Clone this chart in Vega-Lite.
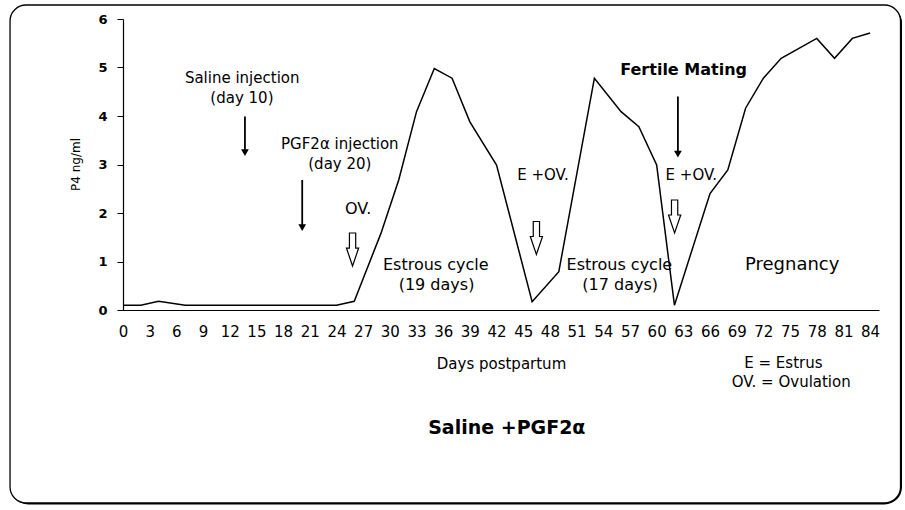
{
  "$schema": "https://vega.github.io/schema/vega-lite/v6.json",
  "width": 756,
  "height": 291,
  "autosize": {"type": "none"},
  "padding": {"left": 123, "top": 19, "right": 26, "bottom": 200},
  "background": "white",
  "config": {
    "view": {"stroke": null},
    "font": "DejaVu Sans"
  },
  "datasets": {
    "p4": [
      {"day": 0, "val": 0.1}, {"day": 2, "val": 0.1}, {"day": 4, "val": 0.18},
      {"day": 7, "val": 0.1}, {"day": 24, "val": 0.1}, {"day": 26, "val": 0.18},
      {"day": 29, "val": 1.58}, {"day": 31, "val": 2.68}, {"day": 33, "val": 4.09},
      {"day": 35, "val": 4.98}, {"day": 37, "val": 4.78}, {"day": 39, "val": 3.88},
      {"day": 42, "val": 2.99}, {"day": 46, "val": 0.17}, {"day": 49, "val": 0.79},
      {"day": 53, "val": 4.78}, {"day": 56, "val": 4.09}, {"day": 58, "val": 3.78},
      {"day": 60, "val": 2.99}, {"day": 62, "val": 0.1}, {"day": 66, "val": 2.4},
      {"day": 68, "val": 2.89}, {"day": 70, "val": 4.16}, {"day": 72, "val": 4.78},
      {"day": 74, "val": 5.19}, {"day": 78, "val": 5.6}, {"day": 80, "val": 5.19},
      {"day": 82, "val": 5.6}, {"day": 84, "val": 5.71}
    ],
    "notes15": [
      {"label": "Saline injection", "day": 13.4, "val": 4.78},
      {"label": "(day 10)", "day": 13.37, "val": 4.38},
      {"label": "PGF2α injection", "day": 24.38, "val": 3.42},
      {"label": "(day 20)", "day": 24.38, "val": 3.01},
      {"label": "E +OV.", "day": 47.22, "val": 2.78},
      {"label": "E +OV.", "day": 63.9, "val": 2.78},
      {"label": "E = Estrus", "day": 74.25, "val": -1.1},
      {"label": "OV. = Ovulation", "day": 75.13, "val": -1.49}
    ],
    "notes16": [
      {"label": "OV.", "day": 26.44, "val": 2.08},
      {"label": "Estrous cycle", "day": 35.17, "val": 0.93},
      {"label": "(19 days)", "day": 35.25, "val": 0.52},
      {"label": "Estrous cycle", "day": 55.81, "val": 0.93},
      {"label": "(17 days)", "day": 55.9, "val": 0.52}
    ],
    "pregnancy": [{"label": "Pregnancy", "day": 75.24, "val": 0.93}],
    "mating": [{"label": "Fertile Mating", "day": 63.03, "val": 4.95}],
    "caption": [{"label": "Saline +PGF2α", "day": 43.15, "val": -2.44}],
    "solid": [
      {"day": 13.71, "val": 3.99, "val2": 3.245},
      {"day": 20.15, "val": 2.68, "val2": 1.7},
      {"day": 62.39, "val": 4.4, "val2": 3.216}
    ],
    "heads": [
      {"day": 13.71, "val": 3.245},
      {"day": 20.15, "val": 1.7},
      {"day": 62.39, "val": 3.216}
    ],
    "hollow": [
      {"day": 25.81, "val": 1.247},
      {"day": 46.48, "val": 1.485},
      {"day": 62.02, "val": 1.928}
    ],
    "frame": [{"day": -12.7, "day2": 87.42, "val": 6.289, "val2": -3.979}]
  },
  "encoding": {
    "x": {
      "field": "day", "type": "quantitative",
      "scale": {"domain": [0, 85], "nice": false, "zero": false},
      "axis": {
        "zindex": 2,
        "grid": false,
        "values": [0, 3, 6, 9, 12, 15, 18, 21, 24, 27, 30, 33, 36, 39, 42, 45, 48, 51, 54, 57, 60, 63, 66, 69, 72, 75, 78, 81, 84],
        "domainColor": "black",
        "domainWidth": 1.2,
        "ticks": false,
        "labelPadding": 14,
        "labelFont": "DejaVu Sans",
        "labelFontSize": 15,
        "labelColor": "black",
        "labelFlush": false,
        "labelOverlap": false,
        "labelBound": false,
        "title": "Days postpartum",
        "titleFont": "DejaVu Sans",
        "titleFontSize": 15,
        "titleFontWeight": "normal",
        "titleColor": "black",
        "titleBaseline": "middle",
        "titleY": 53
      }
    },
    "y": {
      "field": "val", "type": "quantitative",
      "scale": {"domain": [0, 6], "nice": false},
      "axis": {
        "zindex": 2,
        "grid": false,
        "values": [0, 1, 2, 3, 4, 5, 6],
        "domainColor": "black",
        "domainWidth": 1.2,
        "tickColor": "black",
        "tickSize": 6,
        "labelPadding": 10,
        "labelFont": "DejaVu Sans",
        "labelFontSize": 13,
        "labelFontWeight": "bold",
        "labelColor": "black",
        "labelOverlap": false,
        "labelFlush": false,
        "title": "P4 ng/ml",
        "titleFont": "DejaVu Sans",
        "titleFontSize": 12,
        "titleFontWeight": "normal",
        "titleColor": "black",
        "titleAngle": -90,
        "titleBaseline": "bottom",
        "titleAlign": "center",
        "titleX": -41,
        "titleY": 145
      }
    }
  },
  "layer": [
    {
      "data": {"name": "frame"},
      "mark": {"type": "rect", "filled": false, "stroke": "black", "strokeWidth": 3, "cornerRadius": 16, "xOffset": 2.2, "yOffset": 2.2},
      "encoding": {"x2": {"field": "day2"}, "y2": {"field": "val2"}}
    },
    {
      "data": {"name": "frame"},
      "mark": {"type": "rect", "fill": "white", "stroke": "black", "strokeWidth": 1.3, "cornerRadius": 16},
      "encoding": {"x2": {"field": "day2"}, "y2": {"field": "val2"}}
    },
    {
      "data": {"name": "p4"},
      "mark": {"type": "line", "color": "black", "strokeWidth": 1.5},
      "encoding": {}
    },
    {
      "data": {"name": "solid"},
      "mark": {"type": "rule", "color": "black", "strokeWidth": 1.8},
      "encoding": {"y2": {"field": "val2"}}
    },
    {
      "data": {"name": "heads"},
      "mark": {"type": "point", "shape": "triangle-down", "size": 60, "filled": true, "color": "black", "opacity": 1},
      "encoding": {}
    },
    {
      "data": {"name": "hollow"},
      "mark": {"type": "point", "shape": "M -0.19 -1 L 0.19 -1 L 0.19 -0.09 L 0.37 -0.09 L 0 1 L -0.37 -0.09 L -0.19 -0.09 Z", "size": 1089, "filled": true, "fill": "white", "stroke": "black", "strokeWidth": 1.2, "opacity": 1},
      "encoding": {}
    },
    {
      "data": {"name": "notes15"},
      "mark": {"type": "text", "fontSize": 15, "font": "DejaVu Sans", "color": "black", "align": "center", "baseline": "middle"},
      "encoding": {"text": {"field": "label"}}
    },
    {
      "data": {"name": "notes16"},
      "mark": {"type": "text", "fontSize": 16, "font": "DejaVu Sans", "color": "black", "align": "center", "baseline": "middle"},
      "encoding": {"text": {"field": "label"}}
    },
    {
      "data": {"name": "pregnancy"},
      "mark": {"type": "text", "fontSize": 18, "font": "DejaVu Sans", "color": "black", "align": "center", "baseline": "middle"},
      "encoding": {"text": {"field": "label"}}
    },
    {
      "data": {"name": "mating"},
      "mark": {"type": "text", "fontSize": 16, "fontWeight": "bold", "font": "DejaVu Sans", "color": "black", "align": "center", "baseline": "middle"},
      "encoding": {"text": {"field": "label"}}
    },
    {
      "data": {"name": "caption"},
      "mark": {"type": "text", "fontSize": 19, "fontWeight": "bold", "font": "DejaVu Sans", "color": "black", "align": "center", "baseline": "middle"},
      "encoding": {"text": {"field": "label"}}
    }
  ]
}
